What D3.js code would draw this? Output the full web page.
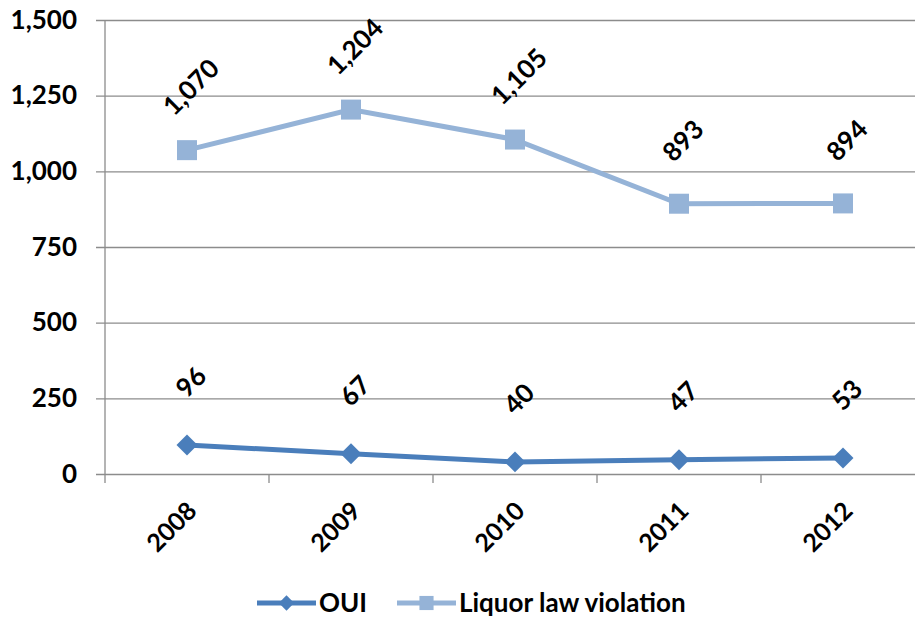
<!DOCTYPE html>
<html>
<head>
<meta charset="utf-8">
<script src="https://cdnjs.cloudflare.com/ajax/libs/d3/7.8.5/d3.min.js"></script>
<style>
  body { margin: 0; background: #fff; }
  text { font-family: Lato, "Open Sans", sans-serif; font-weight: bold; fill: #000; }
</style>
</head>
<body>
<div id="chart"></div>
<script>
// chart data
let years = ["2008", "2009", "2010", "2011", "2012"];
let oui = [96, 67, 40, 47, 53];
let liquor = [1070, 1204, 1105, 893, 894];
let yTicks = [0, 250, 500, 750, 1000, 1250, 1500];
let seriesNames = ["OUI", "Liquor law violation"];
let seriesColors = ["#4a7ebb", "#95b3d7"];

let W = 915, H = 620;
let plotLeft = 105, plotTop = 20, plotBottom = 474, plotRight = 925;

let svg = d3.select("#chart")
	.append("svg")
	.attr("width", W)
	.attr("height", H);

let x = d3.scaleBand()
	.domain(years)
	.range([plotLeft, plotRight]);

let y = d3.scaleLinear()
	.domain([0, 1500])
	.range([plotBottom, plotTop]);

// horizontal grid lines + y labels
let yAxis = svg.append("g")
	.attr("transform", "translate(" + plotLeft + ",0)")
	.call(d3.axisLeft(y).tickValues(yTicks).tickFormat(d3.format(",")).tickSize(-(W - plotLeft)).tickSizeOuter(0).tickPadding(28));
yAxis.select(".domain").remove();
yAxis.selectAll(".tick line").attr("stroke", "#8c8c8c").attr("stroke-width", 1.3).attr("x1", -9);
yAxis.selectAll(".tick text").style("font-size", "26px");

// vertical axis line
svg.append("line")
	.attr("x1", plotLeft).attr("x2", plotLeft)
	.attr("y1", plotTop).attr("y2", plotBottom + 9)
	.attr("stroke", "#8c8c8c").attr("stroke-width", 1.3);

// x tick marks at band boundaries
svg.append("g")
	.selectAll("line")
	.data(years.slice(1))
	.enter().append("line")
	.attr("x1", function (d) { return x(d); })
	.attr("x2", function (d) { return x(d); })
	.attr("y1", plotBottom)
	.attr("y2", plotBottom + 9)
	.attr("stroke", "#8c8c8c").attr("stroke-width", 1.3);

// x labels, rotated
svg.append("g")
	.selectAll("text")
	.data(years)
	.enter().append("text")
	.attr("transform", function (d) {
		return "translate(" + (x(d) + x.bandwidth() / 2 - 1) + "," + (plotBottom + 26) + ") rotate(-45)";
	})
	.attr("text-anchor", "end")
	.attr("dy", "0.7em")
	.style("font-size", "25px")
	.text(function (d) { return d; });

let line = d3.line()
	.x(function (d, i) { return x(years[i]) + x.bandwidth() / 2; })
	.y(function (d) { return y(d); });

// draw one series
function series(values, color, shape) {
	svg.append("path")
		.datum(values)
		.attr("fill", "none")
		.attr("stroke", color)
		.attr("stroke-width", 5)
		.attr("d", line);

	svg.append("g")
		.selectAll("path")
		.data(values)
		.enter().append("path")
		.attr("transform", function (d, i) {
			return "translate(" + (x(years[i]) + x.bandwidth() / 2) + "," + y(d) + ")";
		})
		.attr("d", shape)
		.attr("fill", color);

	svg.append("g")
		.selectAll("text")
		.data(values)
		.enter().append("text")
		.attr("transform", function (d, i) {
			return "translate(" + (x(years[i]) + x.bandwidth() / 2 + 4) + "," + (y(d) - 63) + ") rotate(-45)";
		})
		.attr("text-anchor", "middle")
		.attr("dy", "0.35em")
		.style("font-size", "26px")
		.text(function (d) { return d3.format(",")(d); });
}

let diamond = d3.symbol().type(d3.symbolDiamond2).size(280)();
let square = d3.symbol().type(d3.symbolSquare).size(400)();

series(oui, seriesColors[0], diamond);
series(liquor, seriesColors[1], square);

// legend
let legendItems = [
	{ name: seriesNames[0], color: seriesColors[0], shape: d3.symbol().type(d3.symbolDiamond2).size(150)(), x0: 257, x1: 316 },
	{ name: seriesNames[1], color: seriesColors[1], shape: d3.symbol().type(d3.symbolSquare).size(200)(), x0: 397, x1: 456 }
];
let ly = 603;
legendItems.forEach(function (d) {
	svg.append("line")
		.attr("x1", d.x0).attr("x2", d.x1)
		.attr("y1", ly).attr("y2", ly)
		.attr("stroke", d.color).attr("stroke-width", 5);
	svg.append("path")
		.attr("transform", "translate(" + ((d.x0 + d.x1) / 2) + "," + ly + ")")
		.attr("d", d.shape)
		.attr("fill", d.color);
	svg.append("text")
		.attr("x", d.x1 + 3)
		.attr("y", ly)
		.attr("dy", "0.35em")
		.style("font-size", "26px")
		.text(d.name);
});
</script>
</body>
</html>
